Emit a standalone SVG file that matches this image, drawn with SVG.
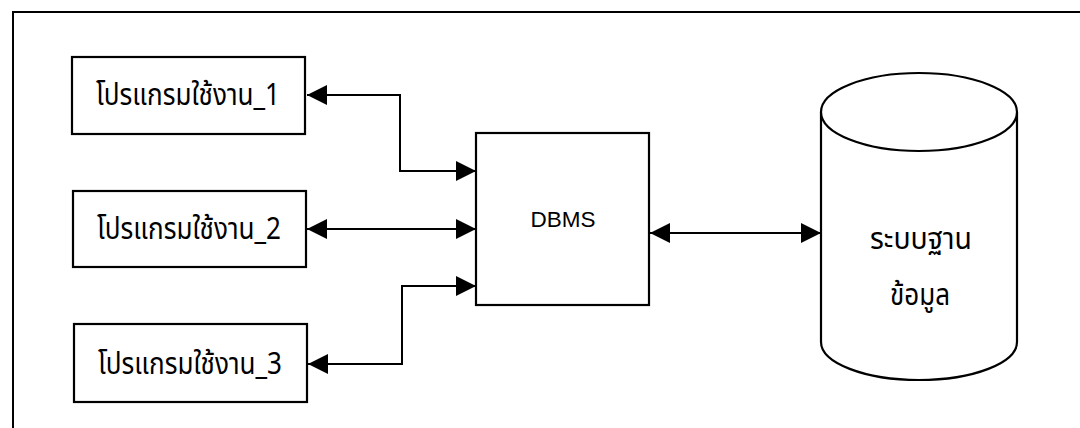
<svg xmlns="http://www.w3.org/2000/svg" width="1080" height="428" viewBox="0 0 1080 428">
<style>
.box{fill:#fff;stroke:#000;stroke-width:2.2}
.ln{fill:none;stroke:#000;stroke-width:2}
.th{font-family:"Noto Sans Thai","Noto Sans","DejaVu Sans",sans-serif;font-size:31px;fill:#000}
.en{font-family:"Liberation Sans",Arial,sans-serif;font-size:22.5px;fill:#000}
</style>
<defs>
<marker id="ah" viewBox="0 0 10 10" refX="10" refY="5" markerWidth="20" markerHeight="20" markerUnits="userSpaceOnUse" orient="auto-start-reverse">
<path d="M0,0 L10,5 L0,10 Z" fill="#000"/>
</marker>
</defs>
<rect width="1080" height="428" fill="#fff"/>
<path class="ln" d="M13,430 L13,12 L1080,12"/>
<g id="connectors">
<path class="ln" d="M307,95 L400,95 L400,171 L476,171" marker-start="url(#ah)" marker-end="url(#ah)"/>
<path class="ln" d="M307,229 L476,229" marker-start="url(#ah)" marker-end="url(#ah)"/>
<path class="ln" d="M308,364 L402,364 L402,286 L476,286" marker-start="url(#ah)" marker-end="url(#ah)"/>
<path class="ln" d="M650,233 L821,233" marker-start="url(#ah)" marker-end="url(#ah)"/>
</g>
<g id="app1">
<rect class="box" x="72" y="57" width="233" height="77"/>
<text class="th" x="188" y="105" text-anchor="middle" textLength="184" lengthAdjust="spacingAndGlyphs">โปรแกรมใช้งาน_1</text>
</g>
<g id="app2">
<rect class="box" x="73" y="191" width="233" height="76"/>
<text class="th" x="189" y="239" text-anchor="middle" textLength="184" lengthAdjust="spacingAndGlyphs">โปรแกรมใช้งาน_2</text>
</g>
<g id="app3">
<rect class="box" x="74" y="324" width="233" height="78"/>
<text class="th" x="190" y="374" text-anchor="middle" textLength="184" lengthAdjust="spacingAndGlyphs">โปรแกรมใช้งาน_3</text>
</g>
<g id="dbms">
<rect class="box" x="476" y="133" width="173" height="172"/>
<text class="en" x="563" y="227" text-anchor="middle">DBMS</text>
</g>
<g id="database">
<path class="box" d="M821,112 L821,342 A98,38 0 0 0 1017,342 L1017,112"/>
<ellipse class="box" cx="919" cy="112" rx="98" ry="39"/>
<text class="th" x="921" y="249" text-anchor="middle" textLength="102" lengthAdjust="spacingAndGlyphs">ระบบฐาน</text>
<text class="th" x="920" y="305" text-anchor="middle" textLength="60" lengthAdjust="spacingAndGlyphs">ข้อมูล</text>
</g>
</svg>
